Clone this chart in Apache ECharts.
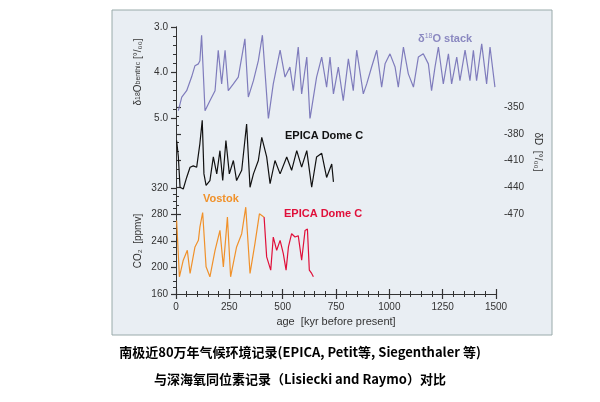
<!DOCTYPE html><html><head><meta charset="utf-8"><script src="https://cdn.jsdelivr.net/npm/echarts@6/dist/echarts.min.js"></script>
<style>html,body{margin:0;background:#fff}#c{width:600px;height:402px}</style></head><body><div id="c"></div><script>
const d18Age=[11,27,50,73,89,105,112,120,136,159,183,198,214,230,245,269,292,323,339,363,386,405,433,456,488,511,534,550,573,589,613,628,659,683,706,722,738,761,784,808,831,847,878,894,917,941,964,980,1003,1027,1042,1066,1089,1113,1136,1159,1183,1198,1214,1230,1253,1277,1292,1316,1331,1355,1378,1394,1409,1433,1456,1472,1495];
const d18Val=[4.84,4.54,4.40,4.10,3.85,3.81,3.74,3.18,4.84,4.62,4.40,3.51,4.25,3.51,4.40,4.25,4.10,3.26,4.54,4.18,3.74,3.18,5.02,4.25,3.51,4.10,3.88,4.40,3.44,4.47,3.66,5.02,4.10,3.66,4.32,3.66,4.47,3.88,4.62,3.70,4.40,3.51,4.47,4.25,3.88,3.51,4.32,3.81,3.59,3.88,4.32,3.44,4.03,4.32,3.66,3.59,3.81,4.40,3.88,3.44,4.25,3.59,4.25,3.66,4.18,3.51,4.18,3.51,4.18,3.37,4.25,3.44,4.32];
const dDAge=[3,11,19,34,50,66,81,97,112,123,131,141,159,175,191,206,219,234,250,269,284,308,331,347,363,386,402,425,441,464,488,519,542,566,589,613,636,659,683,706,730,738];
const dDVal=[-387.5,-406,-440,-442,-429,-417.5,-416,-417.5,-391,-365,-425,-438,-432.5,-406,-425,-399,-432.5,-387.5,-425,-410,-432.5,-421,-369,-440,-425,-410,-384,-406,-436,-410,-425,-406,-421,-399,-417.5,-399,-440,-406,-402,-429,-414,-434];
const vosAge=[3,16,34,53,66,89,105,112,125,141,159,183,206,222,241,256,284,308,327,347,370,391,413];
const vosVal=[271,186,211,226,191,231,241,261,283,201,186,226,256,201,276,186,231,251,291,191,236,281,276];
const edcAge=[413,425,444,456,472,488,503,516,527,542,558,573,589,605,616,625,636,644];
const edcVal=[276,216,196,246,226,241,221,196,231,251,246,248,211,256,258,196,191,186];
const xTicks=[0,250,500,750,1000,1250,1500];
const L=176,W=320;
const ax={color:'#333',width:1};
const lab={color:'#333',fontFamily:'Liberation Sans',fontSize:10};
const tick={show:true,inside:false,length:5,lineStyle:{color:'#333',width:1.2}};
const mt=(n)=>({show:true,splitNumber:n,length:3,lineStyle:{color:'#333',width:1}});
const ch=echarts.init(document.getElementById('c'));
const xa=(i,show)=>({gridIndex:i,type:'value',min:0,max:1500,interval:250,show:show,
 axisLine:{show:true,lineStyle:ax},axisTick:tick,minorTick:mt(5),
 splitLine:{show:false},axisLabel:{...lab,formatter:v=>xTicks.includes(v)?String(v):''},
 name:show?'age  [kyr before present]':'',nameLocation:'middle',nameGap:20,nameTextStyle:{...lab,fontSize:11}});
const ya=(o)=>({type:'value',axisLine:{show:true,lineStyle:{color:'rgba(0,0,0,0)'}},axisTick:tick,splitLine:{show:false},axisLabel:lab,...o});
const rt={fill:'#333',fontSize:10,fontFamily:'Liberation Sans'};
ch.setOption({
 animation:false,
 graphic:[
  {type:'rect',z:-10,shape:{x:112,y:10,width:440,height:325},style:{fill:'#e9eef3',stroke:'#9aa',lineWidth:1}},
  {type:'text',left:418,top:33,style:{text:'{a|δ}{s|18}{a|O stack}',rich:{a:{fill:'#8a88c0',fontSize:11,fontWeight:'bold',fontFamily:'Liberation Sans'},s:{fill:'#8a88c0',fontSize:7,verticalAlign:'top',fontFamily:'Liberation Sans'}}}},
  {type:'text',left:285,top:130,style:{text:'EPICA Dome C',fill:'#111',fontSize:11,fontWeight:'bold',fontFamily:'Liberation Sans'}},
  {type:'text',left:203,top:193,style:{text:'Vostok',fill:'#f0912a',fontSize:11,fontWeight:'bold',fontFamily:'Liberation Sans'}},
  {type:'text',left:284,top:208,style:{text:'EPICA Dome C',fill:'#e0103a',fontSize:11,fontWeight:'bold',fontFamily:'Liberation Sans'}},
  {type:'text',x:138,y:72,rotation:Math.PI/2,style:{text:'{a|δ}{s|18}{a|O}{b|benthic}{a| [°/₀₀]}',align:'center',verticalAlign:'middle',rich:{a:rt,s:{...rt,fontSize:7},b:{...rt,fontSize:7}}}},
  {type:'text',x:138,y:241,rotation:Math.PI/2,style:{text:'CO₂  [ppmv]',align:'center',verticalAlign:'middle',...rt}},
  {type:'text',x:538,y:152,rotation:-Math.PI/2,style:{text:'δD  [°/₀₀]',align:'center',verticalAlign:'middle',...rt}},
  {type:'text',left:'center',top:346,style:{text:'南极近80万年气候环境记录(EPICA, Petit等, Siegenthaler 等)',fill:'#000',fontSize:13,fontWeight:'bold',fontFamily:'Noto Sans CJK SC'}},
  {type:'text',left:'center',top:373,style:{text:'与深海氧同位素记录（Lisiecki and Raymo）对比',fill:'#000',fontSize:13,fontWeight:'bold',fontFamily:'Noto Sans CJK SC'}}
 ],
 grid:[
  {left:L,width:W,top:27,height:267},
  {left:L,width:W,top:27,height:91},
  {left:L,width:W,top:107,height:107},
  {left:L,width:W,top:188,height:106}
 ],
 xAxis:[
  xa(0,true),
  {...xa(0,true),position:'top',axisLabel:{show:false},name:''},
  xa(1,false),xa(2,false),xa(3,false)
 ],
 yAxis:[
  {gridIndex:0,type:'value',min:0,max:1,axisLine:{lineStyle:ax},axisTick:{show:false},axisLabel:{show:false},splitLine:{show:false}},
  {gridIndex:0,type:'value',min:0,max:1,position:'right',axisLine:{lineStyle:ax},axisTick:{show:false},axisLabel:{show:false},splitLine:{show:false}},
  ya({gridIndex:1,inverse:true,min:3,max:5,interval:1,minorTick:mt(5),axisLabel:{...lab,formatter:v=>v.toFixed(1)}}),
  ya({gridIndex:2,position:'right',min:-470,max:-350,interval:30,minorTick:mt(3)}),
  ya({gridIndex:3,min:160,max:320,interval:40,minorTick:mt(4)})
 ],
 series:[
  {type:'line',xAxisIndex:2,yAxisIndex:2,symbol:'none',lineStyle:{color:'#7f7cbc',width:1.2},data:d18Age.map((a,i)=>[a,d18Val[i]])},
  {type:'line',xAxisIndex:3,yAxisIndex:3,symbol:'none',lineStyle:{color:'#111',width:1.2},data:dDAge.map((a,i)=>[a,dDVal[i]])},
  {type:'line',xAxisIndex:4,yAxisIndex:4,symbol:'none',lineStyle:{color:'#f0912a',width:1.2},data:vosAge.map((a,i)=>[a,vosVal[i]])},
  {type:'line',xAxisIndex:4,yAxisIndex:4,symbol:'none',lineStyle:{color:'#e0103a',width:1.2},data:edcAge.map((a,i)=>[a,edcVal[i]])}
 ]
});
</script></body></html>
